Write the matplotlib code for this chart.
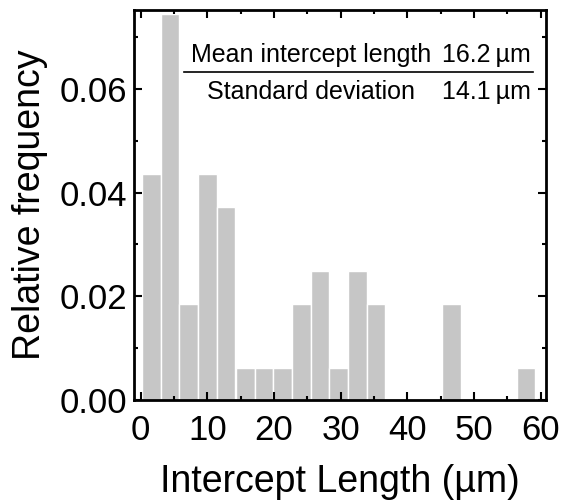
import matplotlib
matplotlib.use("Agg")
import matplotlib.pyplot as plt
from matplotlib.ticker import MultipleLocator, FormatStrFormatter

# histogram bins (left edges, µm) and relative frequency
bin_left = [0.2, 3.0, 5.8, 8.6, 11.4, 14.3, 17.1, 19.9, 22.7, 25.5, 28.3,
            31.1, 33.9, 36.7, 39.5, 42.3, 45.2, 48.0, 50.8, 53.6, 56.4]
bin_width = 2.81
rel_freq = [0.0435, 0.0744, 0.0186, 0.0435, 0.0373, 0.0062, 0.0062, 0.0062,
            0.0186, 0.0248, 0.0062, 0.0248, 0.0186, 0.0, 0.0, 0.0, 0.0186,
            0.0, 0.0, 0.0, 0.0062]

stat_names = ["Mean intercept length", "Standard deviation"]
stat_values = ["16.2\u2009\u00b5m", "14.1\u2009\u00b5m"]

plt.rcParams["font.family"] = ["Liberation Sans", "DejaVu Sans"]

fig = plt.figure(figsize=(5.61, 5.03), dpi=100)
ax = fig.add_axes([0.2389, 0.2048, 0.7344, 0.7753])

ax.bar(bin_left, rel_freq, width=bin_width, align="edge",
       color="#c6c6c6", edgecolor="white", linewidth=1.0)

ax.set_xlim(-1.0, 60.8)
ax.set_ylim(0, 0.0752)
ax.xaxis.set_major_locator(MultipleLocator(10))
ax.xaxis.set_minor_locator(MultipleLocator(5))
ax.yaxis.set_major_locator(MultipleLocator(0.02))
ax.yaxis.set_minor_locator(MultipleLocator(0.01))
ax.yaxis.set_major_formatter(FormatStrFormatter("%.2f"))

ax.tick_params(which="both", direction="in", top=True, right=True,
               width=1.5, labelsize=25)
ax.tick_params(axis="x", pad=10)
ax.tick_params(axis="y", pad=5)
ax.tick_params(which="major", length=6)
ax.tick_params(which="minor", length=3)
for s in ax.spines.values():
    s.set_linewidth(2)

ax.set_xlabel("Intercept Length (\u00b5m)", fontsize=27, labelpad=12)
ax.set_ylabel("Relative frequency", fontsize=27, labelpad=8)

# stats box
ax.plot([0.121, 0.968], [0.840, 0.840], transform=ax.transAxes,
        color="black", linewidth=1.2, clip_on=False)
ax.text(0.138, 0.867, stat_names[0], transform=ax.transAxes, fontsize=18,
        ha="left", va="baseline")
ax.text(0.964, 0.867, stat_values[0], transform=ax.transAxes, fontsize=18,
        ha="right", va="baseline")
ax.text(0.177, 0.772, stat_names[1], transform=ax.transAxes, fontsize=18,
        ha="left", va="baseline")
ax.text(0.964, 0.772, stat_values[1], transform=ax.transAxes, fontsize=18,
        ha="right", va="baseline")

fig.savefig("out.png", dpi=100)
